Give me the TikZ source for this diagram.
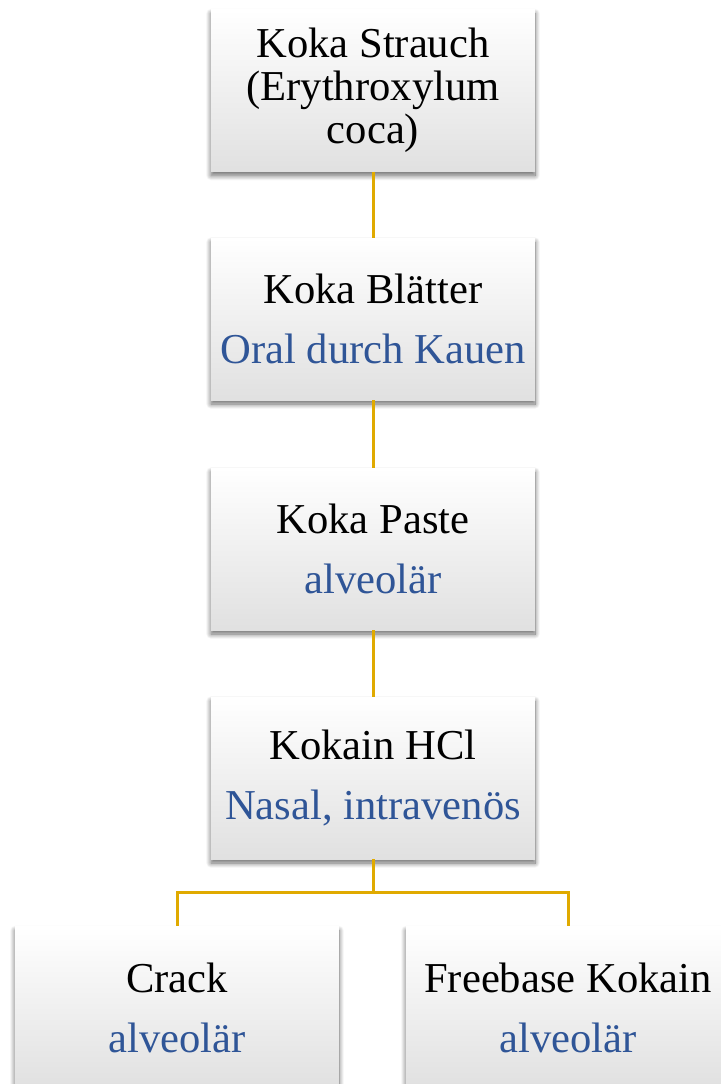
\documentclass[tikz,border=0pt]{standalone}
\usepackage{fontspec}
\setmainfont{Liberation Serif}
\usetikzlibrary{shadows.blur}
\definecolor{lineGold}{RGB}{224,170,0}
\definecolor{txtBlue}{RGB}{47,85,151}
\tikzset{
  box/.style={rectangle, minimum width=324pt, minimum height=162pt, inner sep=0pt,
    text width=322pt, align=flush center,
    top color=white, middle color=white, bottom color=black!12,
    blur shadow={shadow xshift=0pt, shadow yshift=-4pt, shadow blur radius=5pt, shadow blur steps=12, shadow opacity=60},
    font=\fontsize{42.6}{43}\selectfont},
  conn/.style={draw=lineGold, line width=3pt}
}
\begin{document}
\begin{tikzpicture}[x=1pt,y=-1pt]
\useasboundingbox (0,0) rectangle (720,1084);
\node[box] (b1) at (373,90.5) {Koka Strauch\\(Erythroxylum\\coca)};
\node[box] (b2) at (373,319) {Koka Blätter\\[17pt]\textcolor{txtBlue}{Oral durch Kauen}};
\node[box] (b3) at (373,549) {Koka Paste\\[17pt]\textcolor{txtBlue}{alveolär}};
\node[box] (b4) at (373,778) {Kokain HCl\\[17pt]\textcolor{txtBlue}{Nasal, intravenös}};
\node[box] (c1) at (177,1007.5) {Crack\\[17pt]\textcolor{txtBlue}{alveolär}};
\node[box] (c2) at (568,1007.5) {Freebase Kokain\\[17pt]\textcolor{txtBlue}{alveolär}};
\draw[conn] (b1.south) -- (b2.north);
\draw[conn] (b2.south) -- (b3.north);
\draw[conn] (b3.south) -- (b4.north);
\draw[conn] (b4.south) -- ++(0,33) coordinate (fork) -| (c1.north);
\draw[conn] (fork) -| (c2.north);
\end{tikzpicture}
\end{document}
